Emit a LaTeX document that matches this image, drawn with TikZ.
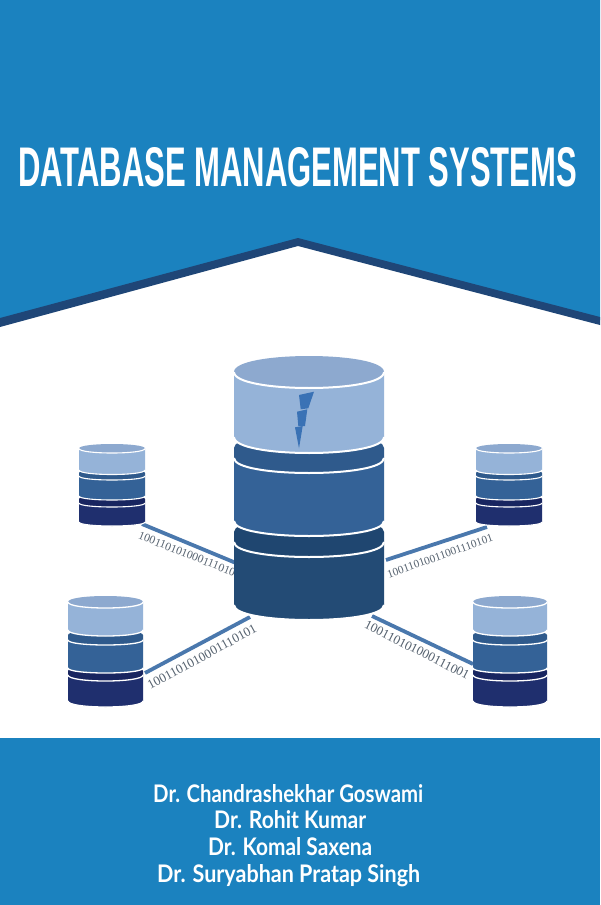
\documentclass[tikz,border=0pt]{standalone}
\usepackage{fontspec}
\setmainfont{Liberation Sans}
\newfontfamily\authorfont{Lato}
\newfontfamily\bitsfont{Liberation Serif}
\definecolor{coverblue}{HTML}{1B82BF}
\definecolor{banddark}{HTML}{1F4677}
\definecolor{lightbody}{HTML}{95B3D8}
\definecolor{lighttop}{HTML}{8DA9CF}
\definecolor{midbody}{HTML}{346297}
\definecolor{midtop}{HTML}{2F5A8C}
\definecolor{deepbody}{HTML}{234B75}
\definecolor{deeptop}{HTML}{1F4670}
\definecolor{navybody}{HTML}{1F2F6E}
\definecolor{navytop}{HTML}{182560}
\definecolor{stripblue}{HTML}{4A78AD}
\definecolor{bitgrey}{HTML}{56626F}
\definecolor{boltblue}{HTML}{3A72B5}
\tikzset{
  strip/.style={draw=stripblue,line width=3.8pt},
  bits/.style={text=bitgrey,inner sep=0pt,font=\bitsfont},
  author/.style={text=white,inner sep=0pt,anchor=base west},
  bolt/.style={fill=boltblue},
}
% x-left, x-right, y of top edge, y of bottom edge, ry, top fill, body fill, line width, lift of the top disk
\newcommand\dbsec[9]{%
  \fill[#7] (#1,#3) -- (#1,#4) .. controls (#1,{#4+1.333*#5}) and (#2,{#4+1.333*#5}) .. (#2,#4) -- (#2,#3) -- cycle;
  \fill[#6] (#1,#3) -- (#1,{#3-#9}) .. controls (#1,{#3-#9-1.333*#5}) and (#2,{#3-#9-1.333*#5}) .. (#2,{#3-#9}) -- (#2,#3)
     .. controls (#2,{#3+1.333*#5}) and (#1,{#3+1.333*#5}) .. (#1,#3) -- cycle;
  \draw[draw=white,line width=#8] (#1,#3) .. controls (#1,{#3+1.333*#5}) and (#2,{#3+1.333*#5}) .. (#2,#3);
  \draw[draw=white,line width=#8] (#1,#4) .. controls (#1,{#4+1.333*#5}) and (#2,{#4+1.333*#5}) .. (#2,#4);
}
\begin{document}
\begin{tikzpicture}[x=1pt,y=-1pt]
\useasboundingbox (0,0) rectangle (600,905);
\fill[white] (0,0) rectangle (600,905);
% cover bands
\fill[coverblue] (0,0) -- (600,0) -- (600,320) -- (298,242) -- (0,320) -- cycle;
\fill[banddark] (0,318) -- (298,238) -- (600,317) -- (600,325) -- (298,246) -- (0,327) -- cycle;
\fill[coverblue] (0,738) rectangle (600,905);
\node[text=white,inner sep=0pt,anchor=base west] (title) at (18,186)
  {\resizebox{559pt}{39pt}{\bfseries DATABASE MANAGEMENT SYSTEMS}};
% authors
\node[author] (a1) at (153,802) {\resizebox{270pt}{18pt}{\authorfont\bfseries Dr. Chandrashekhar Goswami}};
\node[author] (a2) at (214,828) {\resizebox{152pt}{18pt}{\authorfont\bfseries Dr. Rohit Kumar}};
\node[author] (a3) at (208,855) {\resizebox{164pt}{18pt}{\authorfont\bfseries Dr. Komal Saxena}};
\node[author] (a4) at (157,882) {\resizebox{263pt}{18pt}{\authorfont\bfseries Dr. Suryabhan Pratap Singh}};
% connector ends
\coordinate (tlA) at (142,524); \coordinate (tlB) at (236,563);
\coordinate (blA) at (145,673); \coordinate (blB) at (250,617);
\coordinate (trA) at (386,560); \coordinate (trB) at (487,527);
\coordinate (brA) at (372,616); \coordinate (brB) at (473,664);
\draw[strip] (tlA) -- (tlB);
\draw[strip] (blA) -- (blB);
\draw[strip] (trA) -- (trB);
\draw[strip] (brA) -- (brB);
\node[bits,rotate=-21.5,font=\bitsfont\fontsize{11.6}{12}\selectfont] (tlT) at (187,554) {100110101000111010};
\node[bits,rotate=28.6,font=\bitsfont\fontsize{13}{14}\selectfont] (blT) at (202,657) {1001101010001110101};
\node[bits,rotate=19.7,font=\bitsfont\fontsize{11.3}{12}\selectfont] (trT) at (440,556) {10011010011001110101};
\node[bits,rotate=-26.8,font=\bitsfont\fontsize{13}{14}\selectfont] (brT) at (417,650) {100110101000111001};
% main cylinder
\dbsec{234}{384}{542}{605}{15}{deeptop}{deepbody}{2pt}{10}
\dbsec{234}{384}{458}{521}{15}{midtop}{midbody}{2pt}{10}
\dbsec{234}{384}{372}{437}{16}{lighttop}{lightbody}{2pt}{0}
\fill[bolt] (299,395) -- (314,391.7) -- (308.3,408.3) -- (300.7,409.3) -- cycle;
\fill[bolt] (297,411.7) -- (307.3,409.3) -- (305,426) -- (298.3,426) -- cycle;
\fill[bolt] (295,427.3) -- (302.7,426) -- (299,448.3) -- cycle;
% small, upper left
\dbsec{79}{145}{503}{522}{4}{navytop}{navybody}{1.1pt}{4}
\dbsec{79}{145}{476}{496}{4}{midtop}{midbody}{1.1pt}{3}
\dbsec{79}{145}{448.5}{470}{4.5}{lighttop}{lightbody}{1.1pt}{0}
% small, upper right
\dbsec{476}{542}{503}{522}{4}{navytop}{navybody}{1.1pt}{4}
\dbsec{476}{542}{476}{496}{4}{midtop}{midbody}{1.1pt}{3}
\dbsec{476}{542}{448.5}{470}{4.5}{lighttop}{lightbody}{1.1pt}{0}
% small, lower left
\dbsec{68}{143}{675}{701}{6}{navytop}{navybody}{1.3pt}{4}
\dbsec{68}{143}{640}{668}{5}{midtop}{midbody}{1.3pt}{5}
\dbsec{68}{143}{602}{630}{6}{lighttop}{lightbody}{1.3pt}{0}
% small, lower right
\dbsec{473}{547}{675}{701}{6}{navytop}{navybody}{1.3pt}{4}
\dbsec{473}{547}{640}{668}{5}{midtop}{midbody}{1.3pt}{5}
\dbsec{473}{547}{602}{630}{6}{lighttop}{lightbody}{1.3pt}{0}
\end{tikzpicture}
\end{document}
